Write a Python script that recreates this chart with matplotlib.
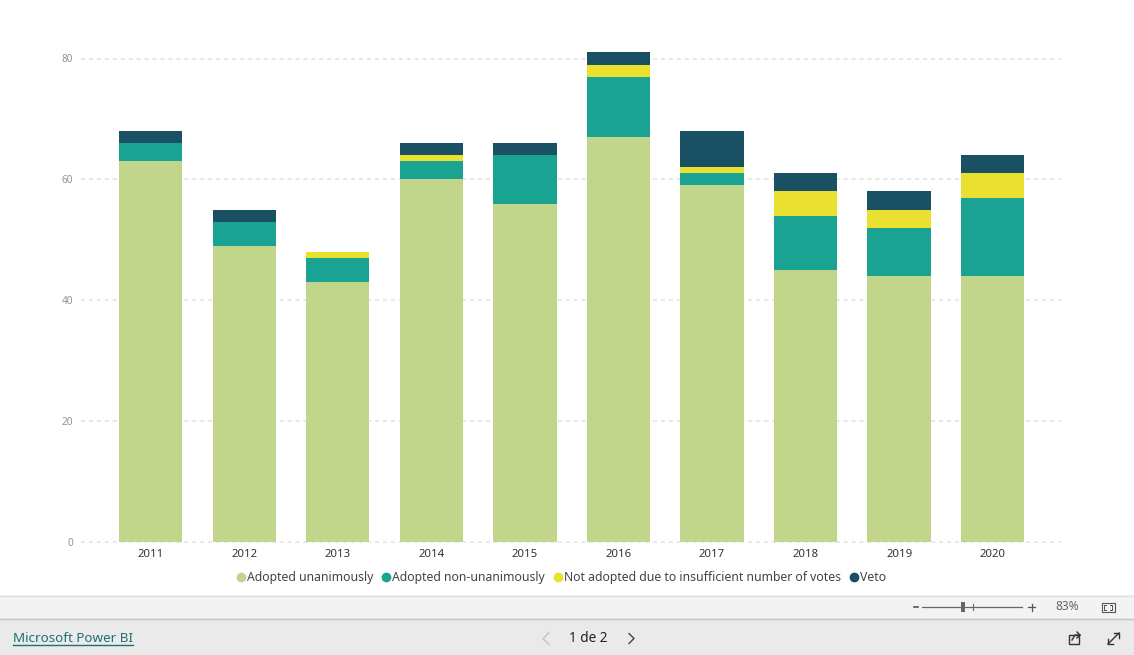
import numpy as np
import matplotlib
matplotlib.use('Agg')
import matplotlib.pyplot as plt
from matplotlib.lines import Line2D
from matplotlib.patches import Rectangle

plt.rcParams['font.family'] = ['Noto Sans', 'DejaVu Sans']

years = ['2011', '2012', '2013', '2014', '2015', '2016', '2017', '2018', '2019', '2020']
unanimous = [63, 49, 43, 60, 56, 67, 59, 45, 44, 44]
non_unanimous = [3, 4, 4, 3, 8, 10, 2, 9, 8, 13]
not_adopted = [0, 0, 1, 1, 0, 2, 1, 4, 3, 4]
veto = [2, 2, 0, 2, 2, 2, 6, 3, 3, 3]
series_names = ['Adopted unanimously', 'Adopted non-unanimously',
                'Not adopted due to insufficient number of votes', 'Veto']
colors = ['#C1D68A', '#1AA393', '#EAE02F', '#1A5064']
y_ticks = [0, 20, 40, 60, 80]

W, H = 1134, 655
fig = plt.figure(figsize=(W / 100, H / 100), dpi=100, facecolor='white')

# plot area, in pixels of the page
left, right, top, bottom = 81, 1061, 58.5, 542
ax = fig.add_axes([left / W, 1 - bottom / H, (right - left) / W, (bottom - top) / H])
ax.set_xlim(-0.745, 9.73)
ax.set_ylim(0, 80)

x = np.arange(len(years))
base = np.zeros(len(years))
for vals, col in zip([unanimous, non_unanimous, not_adopted, veto], colors):
    ax.bar(x, vals, width=0.677, bottom=base, color=col, linewidth=0, zorder=3, clip_on=False)
    base = base + np.array(vals)

ax.set_xticks(x, years)
ax.set_yticks(y_ticks)
ax.grid(axis='y', color='#E2E2E2', linewidth=1.1, linestyle=(0, (2.6, 2.6)), zorder=0)
ax.set_axisbelow(True)
for g in ax.get_ygridlines():
    g.set_clip_on(False)
for s in ax.spines.values():
    s.set_visible(False)
ax.tick_params(axis='x', length=0, labelsize=8.2, labelcolor='#333333', pad=5)
ax.tick_params(axis='y', length=0, labelsize=7.2, labelcolor='#8A94A0', pad=5.8)

handles = [Line2D([], [], linestyle='none', marker='o', markersize=6, color=c) for c in colors]
fig.legend(handles, series_names, loc='center', bbox_to_anchor=(559.5 / W, 1 - 577.5 / H), ncol=4,
           frameon=False, fontsize=8.8, labelcolor='#444444', handletextpad=-0.15,
           columnspacing=0.4, handlelength=1.3, borderpad=0)

# report viewer chrome under the chart
page = fig.add_axes([0, 0, 1, 1], zorder=5)
page.set_xlim(0, W)
page.set_ylim(H, 0)
page.axis('off')
page.patch.set_alpha(0)
page.add_patch(Rectangle((0, 595), W, 23, facecolor='#F3F3F3', edgecolor='none'))
page.add_patch(Rectangle((0, 618), W, 37, facecolor='#EAEAEA', edgecolor='none'))
page.plot([0, W], [595.5, 595.5], color='#E1E1E1', lw=1)
page.plot([0, W], [618.5, 618.5], color='#C6C6C6', lw=1)

page.text(13, 639, 'Microsoft Power BI', fontsize=9.7, color='#1F6F73', va='center', ha='left',
          fontweight='medium')
page.plot([13, 133], [645, 645], color='#1F6F73', lw=1)
page.text(588, 638.5, '1 de 2', fontsize=9.8, color='#222222', va='center', ha='center')
page.plot([549, 543, 549], [632.5, 638.5, 644.5], color='#C4C4C4', lw=1)
page.plot([629, 634, 629], [633.5, 638.5, 643.5], color='#444444', lw=1)

# zoom slider
page.plot([913.5, 917.5], [607, 607], color='#555555', lw=1.2)
page.plot([922, 1022], [607, 607], color='#666666', lw=0.9)
page.add_patch(Rectangle((961, 602), 4, 10, facecolor='#666666', edgecolor='none'))
page.plot([972.5, 972.5], [604, 610], color='#666666', lw=0.8)
page.plot([1028, 1035], [607, 607], color='#555555', lw=0.9)
page.plot([1031.5, 1031.5], [603.5, 610.5], color='#555555', lw=0.9)
page.text(1067, 606.5, '83%', fontsize=8.6, color='#666666', va='center', ha='center')

# fit to page icon
page.add_patch(Rectangle((1101.5, 602.5), 13, 9, facecolor='none', edgecolor='#555555', lw=0.8))
page.plot([1106, 1104, 1104, 1106], [604.5, 604.5, 609.5, 609.5], color='#555555', lw=0.7)
page.plot([1110, 1112, 1112, 1110], [604.5, 604.5, 609.5, 609.5], color='#555555', lw=0.7)

# share and fullscreen icons
page.add_patch(Rectangle((1069, 635), 10, 9, facecolor='none', edgecolor='#333333', lw=1))
page.plot([1072, 1075, 1080], [640, 635, 635], color='#333333', lw=1)
page.plot([1077, 1080, 1077], [632, 635, 638], color='#333333', lw=1)
page.plot([1108, 1119], [644, 633], color='#333333', lw=1)
page.plot([1108, 1108, 1113], [639, 644, 644], color='#333333', lw=1)
page.plot([1114, 1119, 1119], [633, 633, 638], color='#333333', lw=1)

fig.savefig('out.png', dpi=100)
